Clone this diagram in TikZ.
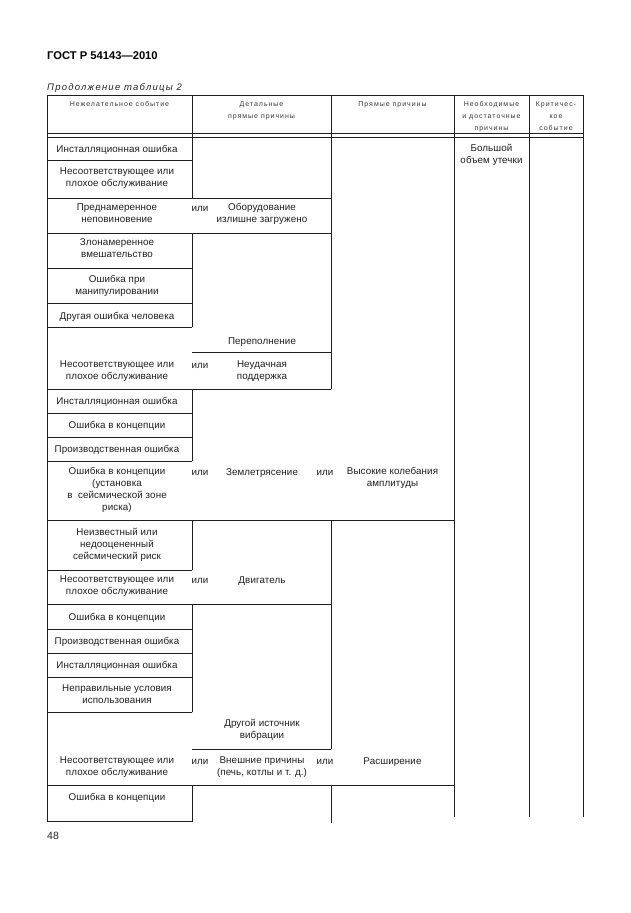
\documentclass[tikz,border=0pt]{standalone}
\usepackage{fontspec}
\setmainfont{Liberation Sans}
\newfontfamily\bodyfont[LetterSpace=1]{Liberation Sans}
\newfontfamily\hdrfont[LetterSpace=14]{Liberation Sans}
\newfontfamily\itfont[LetterSpace=13]{Liberation Sans}
\begin{document}
\begin{tikzpicture}[x=1pt,y=-1pt,
  grid/.style={line width=0.9pt, color=black!88, line cap=rect},
  cell/.style={font=\bodyfont\fontsize{9.8}{12}\selectfont, align=center, inner sep=0pt, anchor=north, text=black!88, execute at begin node=\strut},
  hcell/.style={font=\hdrfont\fontsize{7}{12}\selectfont, inner sep=0pt, anchor=base, text=black!78}]
\path[use as bounding box, fill=white] (0,0) rectangle (630,913);

% page texts
\node[anchor=base west, inner sep=0pt, font=\bfseries\fontsize{11.2}{13}\selectfont] (title) at (47,59) {ГОСТ Р 54143—2010};
\node[anchor=base west, inner sep=0pt, font=\itfont\itshape\fontsize{9.5}{12}\selectfont, text=black!85] (cont) at (47,90.5) {Продолжение таблицы 2};
\node[anchor=base west, inner sep=0pt, font=\fontsize{10.5}{12}\selectfont, text=black!85] (pnum) at (47,839) {48};

% header
\draw[grid] (47,95.5) -- (583,95.5);
\draw[grid] (47,133) -- (583,133);
\draw[grid] (47,137.5) -- (583,137.5);
\draw[grid] (192,95.5) -- (192,137.5);
\node[hcell] (h1) at (119.5,106.5) {Нежелательное событие};
\node[hcell] (h2a) at (261.5,106.5) {Детальные};
\node[hcell] (h2b) at (261.5,118) {прямые причины};
\node[hcell] (h3) at (392.5,106.5) {Прямые причины};
\node[hcell] (h4a) at (491.5,106.5) {Необходимые};
\node[hcell] (h4b) at (491.5,118.5) {и достаточные};
\node[hcell] (h4c) at (491.5,130.3) {причины};
\node[hcell] (h5a) at (556,106.5) {Критичес-};
\node[hcell] (h5b) at (556,118.5) {кое};
\node[hcell] (h5c) at (556,130.3) {событие};

% vertical lines
\draw[grid] (47,95.5) -- (47,821);
\draw[grid] (192,137.5) -- (192,198) (192,233) -- (192,327) (192,389) -- (192,461)
            (192,520) -- (192,570) (192,604) -- (192,712) (192,785) -- (192,822);
\draw[grid] (331,95.5) -- (331,389) (331,520) -- (331,749) (331,785) -- (331,822.5);
\draw[grid] (454,95.5) -- (454,817);
\draw[grid] (529,95.5) -- (529,817);
\draw[grid] (583,95.5) -- (583,817);

% horizontal lines
\foreach \yy in {160,268,303,327,413,437,461,570,629,653,677,712,821}
  \draw[grid] (47,\yy) -- (192,\yy);
\foreach \yy in {198,233,389,604}
  \draw[grid] (47,\yy) -- (331,\yy);
\foreach \yy in {520,785}
  \draw[grid] (47,\yy) -- (454,\yy);
\foreach \yy in {352,749}
  \draw[grid] (192,\yy) -- (331,\yy);

% body texts
\node[cell] (a1) at (117,143.6) {Инсталляционная ошибка};
\node[cell] (a2) at (117,167.1) {Несоответствующее или\\плохое обслуживание};
\node[cell] (a3) at (117,203.1) {Преднамеренное\\неповиновение};
\node[cell] (a3o) at (200,203.1) {или};
\node[cell] (b3) at (262,203.1) {Оборудование\\излишне загружено};
\node[cell] (a4) at (117,238.1) {Злонамеренное\\вмешательство};
\node[cell] (a5) at (117,275.1) {Ошибка при\\манипулировании};
\node[cell] (a6) at (117,311.1) {Другая ошибка человека};
\node[cell] (b7) at (262,336.1) {Переполнение};
\node[cell] (a8) at (117,360.1) {Несоответствующее или\\плохое обслуживание};
\node[cell] (a8o) at (200,360.1) {или};
\node[cell] (b8) at (262,360.1) {Неудачная\\поддержка};
\node[cell] (a9) at (117,396.1) {Инсталляционная ошибка};
\node[cell] (a10) at (117,420.1) {Ошибка в концепции};
\node[cell] (a11) at (117,444.1) {Производственная ошибка};
\node[cell] (a12) at (117,467.1) {Ошибка в концепции\\(установка\\в\ \ сейсмической зоне\\риска)};
\node[cell] (a12o) at (200,467.1) {или};
\node[cell] (b12) at (262,467.1) {Землетрясение};
\node[cell] (b12o) at (325,467.1) {или};
\node[cell] (c12) at (392.5,467.1) {Высокие колебания\\амплитуды};
\node[cell] (a13) at (117,528.1) {Неизвестный или\\недооцененный\\сейсмический риск};
\node[cell] (a14) at (117,575.1) {Несоответствующее или\\плохое обслуживание};
\node[cell] (a14o) at (200,575.1) {или};
\node[cell] (b14) at (262,575.1) {Двигатель};
\node[cell] (a15) at (117,612.1) {Ошибка в концепции};
\node[cell] (a16) at (117,636.1) {Производственная ошибка};
\node[cell] (a17) at (117,660.1) {Инсталляционная ошибка};
\node[cell] (a18) at (117,684.1) {Неправильные условия\\использования};
\node[cell] (b19) at (262,719.1) {Другой источник\\вибрации};
\node[cell] (a20) at (117,756.1) {Несоответствующее или\\плохое обслуживание};
\node[cell] (a20o) at (200,756.1) {или};
\node[cell] (b20) at (262,756.1) {Внешние причины\\(печь, котлы и т. д.)};
\node[cell] (b20o) at (325,756.1) {или};
\node[cell] (c20) at (392.5,756.1) {Расширение};
\node[cell] (a21) at (117,792.1) {Ошибка в концепции};
\node[cell] (d1) at (491.5,144.1) {Большой\\объем утечки};
\end{tikzpicture}
\end{document}
